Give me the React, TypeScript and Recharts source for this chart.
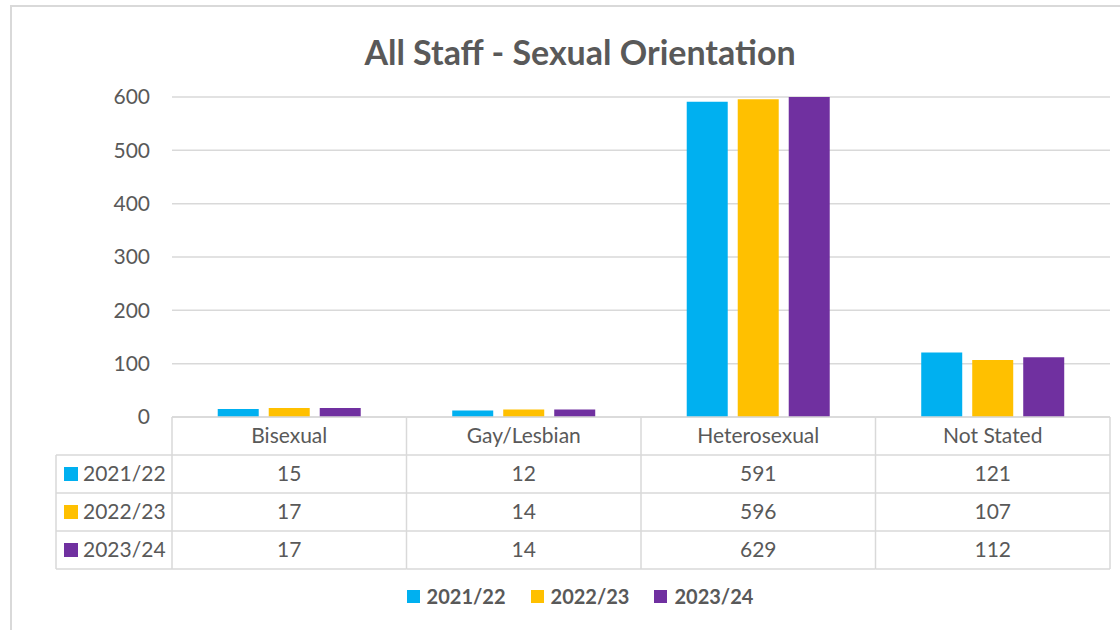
import React from 'react';
import { BarChart, Bar, XAxis, YAxis, CartesianGrid, Legend } from 'recharts';

const categories = ['Bisexual', 'Gay/Lesbian', 'Heterosexual', 'Not Stated'];
const seriesNames = ['2021/22', '2022/23', '2023/24'];
const values2122 = [15, 12, 591, 121];
const values2223 = [17, 14, 596, 107];
const values2324 = [17, 14, 629, 112];
const yTicks = [0, 100, 200, 300, 400, 500, 600];

const seriesValues = [values2122, values2223, values2324];
const seriesColors = ['#00B0F0', '#FFC000', '#7030A0'];
const seriesKeys = ['s0', 's1', 's2'];

const data = categories.map((name, i) => ({
  name,
  s0: values2122[i],
  s1: values2223[i],
  s2: values2324[i],
}));

const CHART_W = 1120;
const CHART_H = 630;
const MARGIN = { top: 97, right: 10, left: 0, bottom: 61 };
const Y_AXIS_W = 172;
const PLOT_W = CHART_W - MARGIN.left - MARGIN.right - Y_AXIS_W;
const ROW_H = 38;
const LABEL_COL_W = 116;
const TEXT = '#595959';
const LINE = '#d9d9d9';
const FONT = 'Lato, "Open Sans", sans-serif';

// draws the data table under the plot, one column per category tick
const TableTick = (props: any) => {
  const { x, y, payload, index } = props;
  const band = PLOT_W / categories.length;
  const left = x - band / 2;
  const right = x + band / 2;
  const col = categories.indexOf(payload.value);
  const rows = seriesNames.length + 1;
  return (
    <g>
      {Array.from({ length: rows + 1 }).map((_, k) => (
        <line key={'h' + k} x1={left} x2={right} y1={y + k * ROW_H} y2={y + k * ROW_H} stroke={LINE} strokeWidth={1.5} />
      ))}
      <line x1={left} x2={left} y1={y} y2={y + rows * ROW_H} stroke={LINE} strokeWidth={1.5} />
      {index === categories.length - 1 && (
        <line x1={right} x2={right} y1={y} y2={y + rows * ROW_H} stroke={LINE} strokeWidth={1.5} />
      )}
      <text x={x} y={y + ROW_H / 2} dy="0.35em" textAnchor="middle" fill={TEXT} fontSize={21} fontFamily={FONT}>
        {payload.value}
      </text>
      {seriesValues.map((vals, s) => (
        <text key={s} x={x} y={y + (s + 1.5) * ROW_H} dy="0.35em" textAnchor="middle" fill={TEXT} fontSize={21} fontFamily={FONT}>
          {vals[col]}
        </text>
      ))}
      {index === 0 && (
        <g>
          {seriesNames.map((_, s) => (
            <line key={'lh' + s} x1={left - LABEL_COL_W} x2={left} y1={y + (s + 1) * ROW_H} y2={y + (s + 1) * ROW_H} stroke={LINE} strokeWidth={1.5} />
          ))}
          <line x1={left - LABEL_COL_W} x2={left} y1={y + rows * ROW_H} y2={y + rows * ROW_H} stroke={LINE} strokeWidth={1.5} />
          <line x1={left - LABEL_COL_W} x2={left - LABEL_COL_W} y1={y + ROW_H} y2={y + rows * ROW_H} stroke={LINE} strokeWidth={1.5} />
          {seriesNames.map((name, s) => (
            <g key={'lab' + s}>
              <rect x={left - LABEL_COL_W + 8} y={y + (s + 1.5) * ROW_H - 7} width={14} height={14} fill={seriesColors[s]} />
              <text x={left - LABEL_COL_W + 27} y={y + (s + 1.5) * ROW_H} dy="0.35em" fill={TEXT} fontSize={21} fontFamily={FONT}>
                {name}
              </text>
            </g>
          ))}
        </g>
      )}
    </g>
  );
};

const renderLegend = (props: any) => {
  const { payload } = props;
  return (
    <div style={{ display: 'flex', justifyContent: 'center', alignItems: 'center', fontFamily: FONT }}>
      {payload.map((p: any, i: number) => (
        <div key={i} style={{ display: 'flex', alignItems: 'center', marginRight: i < payload.length - 1 ? 25 : 0 }}>
          <span style={{ display: 'inline-block', width: 13, height: 13, background: p.color, marginRight: 7 }} />
          <span style={{ fontWeight: 700, fontSize: 20, color: TEXT }}>{p.value}</span>
        </div>
      ))}
    </div>
  );
};

export default function App() {
  return (
    <div style={{ position: 'absolute', left: 0, top: 0, width: CHART_W, height: CHART_H, overflow: 'hidden', background: '#fff', fontFamily: FONT }}>
      <div style={{ position: 'absolute', left: 10, top: 5, right: 0, bottom: 0, borderLeft: `2px solid ${LINE}`, borderTop: `2px solid ${LINE}` }} />
      <div style={{ position: 'absolute', left: 20, width: 1120, top: 31, textAlign: 'center', fontSize: 34, fontWeight: 700, color: TEXT, lineHeight: 'normal' }}>
        All Staff - Sexual Orientation
      </div>
      <div style={{ position: 'absolute', left: 0, top: 0 }}>
        <BarChart width={CHART_W} height={CHART_H} data={data} margin={MARGIN} barCategoryGap="19.5%" barGap={10}>
          <CartesianGrid vertical={false} stroke={LINE} strokeWidth={1.5} />
          <XAxis
            dataKey="name"
            height={152}
            axisLine={false}
            tickLine={false}
            tickSize={0}
            tickMargin={0}
            interval={0}
            tick={<TableTick />}
          />
          <YAxis
            width={Y_AXIS_W}
            domain={[0, 600]}
            ticks={yTicks}
            allowDataOverflow
            axisLine={false}
            tickLine={false}
            tickSize={0}
            tickMargin={22}
            tick={{ fill: TEXT, fontSize: 21, fontFamily: FONT }}
          />
          <Legend
            layout="horizontal"
            verticalAlign="middle"
            align="center"
            content={renderLegend}
            wrapperStyle={{ top: 584, left: 20, width: 1120 }}
          />
          {seriesKeys.map((k, s) => (
            <Bar key={k} dataKey={k} name={seriesNames[s]} fill={seriesColors[s]} isAnimationActive={false} />
          ))}
        </BarChart>
      </div>
    </div>
  );
}
